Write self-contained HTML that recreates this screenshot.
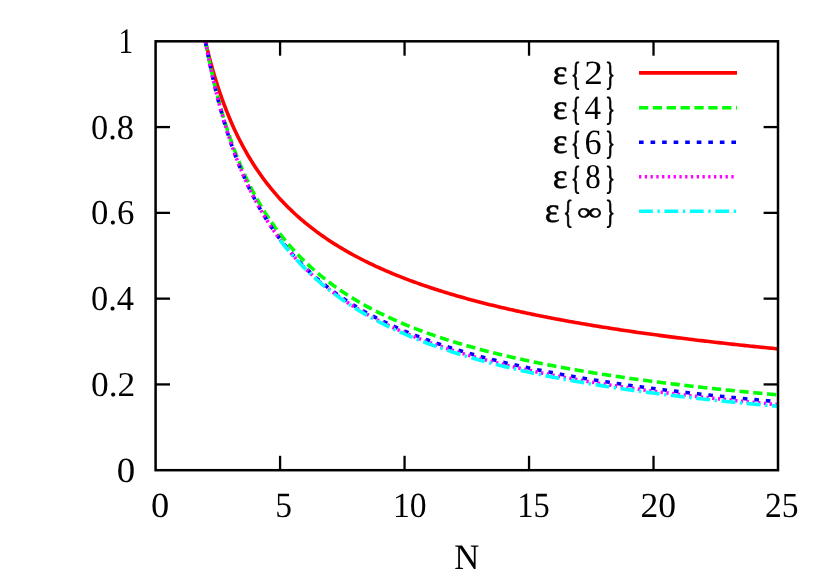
<!DOCTYPE html>
<html><head><meta charset="utf-8"><title>plot</title>
<style>
html,body{margin:0;padding:0;background:#fff;width:830px;height:581px;overflow:hidden;font-family:"Liberation Serif",serif;}
</style></head><body>
<svg width="830" height="581" viewBox="0 0 830 581" style="position:absolute;left:0;top:0">
<rect x="0" y="0" width="830" height="581" fill="#ffffff"/>
<g fill="none" stroke-width="3.6" stroke-linecap="butt" stroke-linejoin="round">
<path d="M205.39,41.30 L207.31,49.32 L209.22,56.90 L211.14,64.09 L213.05,70.92 L214.97,77.41 L216.88,83.59 L218.80,89.50 L220.71,95.14 L222.63,100.53 L224.54,105.71 L226.46,110.66 L228.37,115.43 L230.29,120.00 L232.20,124.41 L234.12,128.65 L236.03,132.74 L237.95,136.69 L239.86,140.50 L241.78,144.19 L243.69,147.75 L245.61,151.20 L247.52,154.54 L249.44,157.78 L251.35,160.92 L253.27,163.96 L255.18,166.92 L257.10,169.80 L259.01,172.59 L260.93,175.31 L262.84,177.95 L264.76,180.53 L266.67,183.04 L268.59,185.48 L270.50,187.86 L272.42,190.19 L274.33,192.45 L276.25,194.67 L278.16,196.83 L280.08,198.94 L282.00,201.00 L283.91,203.02 L285.83,204.99 L287.74,206.92 L289.66,208.81 L291.57,210.65 L293.49,212.46 L295.40,214.23 L297.32,215.97 L299.23,217.67 L301.15,219.34 L303.06,220.97 L304.98,222.57 L306.89,224.15 L308.81,225.69 L310.72,227.20 L312.64,228.69 L314.55,230.15 L316.47,231.58 L318.38,232.99 L320.30,234.37 L322.21,235.73 L324.13,237.07 L326.04,238.38 L327.96,239.67 L329.87,240.94 L331.79,242.19 L333.70,243.42 L335.62,244.63 L337.53,245.82 L339.45,246.99 L341.36,248.15 L343.28,249.28 L345.19,250.40 L347.11,251.50 L349.02,252.59 L350.94,253.66 L352.85,254.71 L354.77,255.75 L356.68,256.77 L358.60,257.78 L360.51,258.78 L362.43,259.76 L364.34,260.73 L366.26,261.68 L368.17,262.62 L370.09,263.55 L372.00,264.47 L373.92,265.37 L375.83,266.26 L377.75,267.14 L379.66,268.01 L381.58,268.87 L383.49,269.72 L385.41,270.56 L387.32,271.38 L389.24,272.20 L391.15,273.01 L393.07,273.80 L394.98,274.59 L396.90,275.37 L398.81,276.14 L400.73,276.90 L402.64,277.65 L404.56,278.39 L406.48,279.12 L408.39,279.85 L410.31,280.57 L412.22,281.27 L414.14,281.98 L416.05,282.67 L417.97,283.35 L419.88,284.03 L421.80,284.70 L423.71,285.37 L425.63,286.02 L427.54,286.67 L429.46,287.32 L431.37,287.95 L433.29,288.58 L435.20,289.21 L437.12,289.82 L439.03,290.43 L440.95,291.04 L442.86,291.63 L444.78,292.23 L446.69,292.81 L448.61,293.39 L450.52,293.97 L452.44,294.54 L454.35,295.10 L456.27,295.66 L458.18,296.21 L460.10,296.76 L462.01,297.30 L463.93,297.84 L465.84,298.38 L467.76,298.90 L469.67,299.43 L471.59,299.94 L473.50,300.46 L475.42,300.97 L477.33,301.47 L479.25,301.97 L481.16,302.47 L483.08,302.96 L484.99,303.45 L486.91,303.93 L488.82,304.41 L490.74,304.88 L492.65,305.35 L494.57,305.82 L496.48,306.28 L498.40,306.74 L500.31,307.19 L502.23,307.64 L504.14,308.09 L506.06,308.53 L507.97,308.97 L509.89,309.41 L511.80,309.84 L513.72,310.27 L515.63,310.70 L517.55,311.12 L519.46,311.54 L521.38,311.96 L523.29,312.37 L525.21,312.78 L527.12,313.18 L529.04,313.59 L530.96,313.99 L532.87,314.38 L534.79,314.78 L536.70,315.17 L538.62,315.56 L540.53,315.94 L542.45,316.33 L544.36,316.70 L546.28,317.08 L548.19,317.46 L550.11,317.83 L552.02,318.20 L553.94,318.56 L555.85,318.92 L557.77,319.28 L559.68,319.64 L561.60,320.00 L563.51,320.35 L565.43,320.70 L567.34,321.05 L569.26,321.40 L571.17,321.74 L573.09,322.08 L575.00,322.42 L576.92,322.75 L578.83,323.09 L580.75,323.42 L582.66,323.75 L584.58,324.08 L586.49,324.40 L588.41,324.72 L590.32,325.05 L592.24,325.36 L594.15,325.68 L596.07,326.00 L597.98,326.31 L599.90,326.62 L601.81,326.93 L603.73,327.23 L605.64,327.54 L607.56,327.84 L609.47,328.14 L611.39,328.44 L613.30,328.74 L615.22,329.03 L617.13,329.32 L619.05,329.62 L620.96,329.91 L622.88,330.19 L624.79,330.48 L626.71,330.76 L628.62,331.05 L630.54,331.33 L632.45,331.61 L634.37,331.88 L636.28,332.16 L638.20,332.43 L640.11,332.71 L642.03,332.98 L643.94,333.25 L645.86,333.51 L647.77,333.78 L649.69,334.05 L651.60,334.31 L653.52,334.57 L655.44,334.83 L657.35,335.09 L659.27,335.35 L661.18,335.60 L663.10,335.86 L665.01,336.11 L666.93,336.36 L668.84,336.61 L670.76,336.86 L672.67,337.11 L674.59,337.35 L676.50,337.60 L678.42,337.84 L680.33,338.08 L682.25,338.32 L684.16,338.56 L686.08,338.80 L687.99,339.03 L689.91,339.27 L691.82,339.50 L693.74,339.74 L695.65,339.97 L697.57,340.20 L699.48,340.43 L701.40,340.66 L703.31,340.88 L705.23,341.11 L707.14,341.33 L709.06,341.55 L710.97,341.78 L712.89,342.00 L714.80,342.22 L716.72,342.44 L718.63,342.65 L720.55,342.87 L722.46,343.08 L724.38,343.30 L726.29,343.51 L728.21,343.72 L730.12,343.94 L732.04,344.15 L733.95,344.35 L735.87,344.56 L737.78,344.77 L739.70,344.97 L741.61,345.18 L743.53,345.38 L745.44,345.59 L747.36,345.79 L749.27,345.99 L751.19,346.19 L753.10,346.39 L755.02,346.59 L756.93,346.78 L758.85,346.98 L760.76,347.17 L762.68,347.37 L764.59,347.56 L766.51,347.75 L768.42,347.94 L770.34,348.14 L772.25,348.32 L774.17,348.51 L776.08,348.70 L778.00,348.89" stroke="#ff0000"/>
<path d="M205.39,41.30 L207.31,51.19 L209.22,60.56 L211.14,69.45 L213.05,77.88 L214.97,85.91 L216.88,93.56 L218.80,100.85 L220.71,107.82 L222.63,114.48 L224.54,120.86 L226.46,126.97 L228.37,132.84 L230.29,138.47 L232.20,143.88 L234.12,149.09 L236.03,154.11 L237.95,158.94 L239.86,163.61 L241.78,168.10 L243.69,172.45 L245.61,176.65 L247.52,180.71 L249.44,184.65 L251.35,188.45 L253.27,192.14 L255.18,195.72 L257.10,199.19 L259.01,202.56 L260.93,205.83 L262.84,209.01 L264.76,212.10 L266.67,215.10 L268.59,218.02 L270.50,220.87 L272.42,223.64 L274.33,226.34 L276.25,228.96 L278.16,231.53 L280.08,234.03 L282.00,236.47 L283.91,238.85 L285.83,241.17 L287.74,243.44 L289.66,245.66 L291.57,247.82 L293.49,249.94 L295.40,252.01 L297.32,254.04 L299.23,256.02 L301.15,257.96 L303.06,259.86 L304.98,261.72 L306.89,263.54 L308.81,265.32 L310.72,267.07 L312.64,268.78 L314.55,270.46 L316.47,272.11 L318.38,273.72 L320.30,275.30 L322.21,276.86 L324.13,278.39 L326.04,279.88 L327.96,281.35 L329.87,282.80 L331.79,284.22 L333.70,285.61 L335.62,286.98 L337.53,288.32 L339.45,289.64 L341.36,290.94 L343.28,292.22 L345.19,293.48 L347.11,294.72 L349.02,295.93 L350.94,297.13 L352.85,298.30 L354.77,299.46 L356.68,300.60 L358.60,301.73 L360.51,302.83 L362.43,303.92 L364.34,304.99 L366.26,306.05 L368.17,307.09 L370.09,308.11 L372.00,309.12 L373.92,310.12 L375.83,311.10 L377.75,312.06 L379.66,313.02 L381.58,313.96 L383.49,314.88 L385.41,315.80 L387.32,316.70 L389.24,317.59 L391.15,318.47 L393.07,319.33 L394.98,320.18 L396.90,321.03 L398.81,321.86 L400.73,322.68 L402.64,323.49 L404.56,324.29 L406.48,325.08 L408.39,325.86 L410.31,326.63 L412.22,327.39 L414.14,328.14 L416.05,328.88 L417.97,329.62 L419.88,330.34 L421.80,331.06 L423.71,331.76 L425.63,332.46 L427.54,333.15 L429.46,333.83 L431.37,334.51 L433.29,335.17 L435.20,335.83 L437.12,336.48 L439.03,337.13 L440.95,337.76 L442.86,338.39 L444.78,339.02 L446.69,339.63 L448.61,340.24 L450.52,340.85 L452.44,341.44 L454.35,342.03 L456.27,342.61 L458.18,343.19 L460.10,343.76 L462.01,344.33 L463.93,344.89 L465.84,345.44 L467.76,345.99 L469.67,346.53 L471.59,347.07 L473.50,347.60 L475.42,348.13 L477.33,348.65 L479.25,349.16 L481.16,349.67 L483.08,350.18 L484.99,350.68 L486.91,351.17 L488.82,351.67 L490.74,352.15 L492.65,352.63 L494.57,353.11 L496.48,353.58 L498.40,354.05 L500.31,354.51 L502.23,354.97 L504.14,355.43 L506.06,355.88 L507.97,356.33 L509.89,356.77 L511.80,357.21 L513.72,357.64 L515.63,358.07 L517.55,358.50 L519.46,358.93 L521.38,359.34 L523.29,359.76 L525.21,360.17 L527.12,360.58 L529.04,360.99 L530.96,361.39 L532.87,361.79 L534.79,362.18 L536.70,362.57 L538.62,362.96 L540.53,363.35 L542.45,363.73 L544.36,364.11 L546.28,364.48 L548.19,364.86 L550.11,365.23 L552.02,365.59 L553.94,365.95 L555.85,366.32 L557.77,366.67 L559.68,367.03 L561.60,367.38 L563.51,367.73 L565.43,368.08 L567.34,368.42 L569.26,368.76 L571.17,369.10 L573.09,369.43 L575.00,369.77 L576.92,370.10 L578.83,370.43 L580.75,370.75 L582.66,371.07 L584.58,371.39 L586.49,371.71 L588.41,372.03 L590.32,372.34 L592.24,372.65 L594.15,372.96 L596.07,373.27 L597.98,373.57 L599.90,373.88 L601.81,374.18 L603.73,374.47 L605.64,374.77 L607.56,375.06 L609.47,375.35 L611.39,375.64 L613.30,375.93 L615.22,376.22 L617.13,376.50 L619.05,376.78 L620.96,377.06 L622.88,377.34 L624.79,377.61 L626.71,377.89 L628.62,378.16 L630.54,378.43 L632.45,378.70 L634.37,378.96 L636.28,379.23 L638.20,379.49 L640.11,379.75 L642.03,380.01 L643.94,380.27 L645.86,380.52 L647.77,380.78 L649.69,381.03 L651.60,381.28 L653.52,381.53 L655.44,381.78 L657.35,382.02 L659.27,382.27 L661.18,382.51 L663.10,382.75 L665.01,382.99 L666.93,383.23 L668.84,383.46 L670.76,383.70 L672.67,383.93 L674.59,384.16 L676.50,384.40 L678.42,384.62 L680.33,384.85 L682.25,385.08 L684.16,385.30 L686.08,385.53 L687.99,385.75 L689.91,385.97 L691.82,386.19 L693.74,386.41 L695.65,386.63 L697.57,386.84 L699.48,387.06 L701.40,387.27 L703.31,387.48 L705.23,387.69 L707.14,387.90 L709.06,388.11 L710.97,388.32 L712.89,388.52 L714.80,388.73 L716.72,388.93 L718.63,389.13 L720.55,389.33 L722.46,389.53 L724.38,389.73 L726.29,389.93 L728.21,390.12 L730.12,390.32 L732.04,390.51 L733.95,390.71 L735.87,390.90 L737.78,391.09 L739.70,391.28 L741.61,391.47 L743.53,391.66 L745.44,391.84 L747.36,392.03 L749.27,392.21 L751.19,392.40 L753.10,392.58 L755.02,392.76 L756.93,392.94 L758.85,393.12 L760.76,393.30 L762.68,393.48 L764.59,393.65 L766.51,393.83 L768.42,394.01 L770.34,394.18 L772.25,394.35 L774.17,394.52 L776.08,394.70 L778.00,394.87" stroke="#00ff00" stroke-dasharray="9.24,4.62"/>
<path d="M205.39,41.30 L207.31,51.49 L209.22,61.14 L211.14,70.29 L213.05,78.97 L214.97,87.23 L216.88,95.10 L218.80,102.60 L220.71,109.76 L222.63,116.61 L224.54,123.17 L226.46,129.45 L228.37,135.47 L230.29,141.26 L232.20,146.81 L234.12,152.16 L236.03,157.31 L237.95,162.27 L239.86,167.05 L241.78,171.67 L243.69,176.13 L245.61,180.43 L247.52,184.60 L249.44,188.63 L251.35,192.53 L253.27,196.31 L255.18,199.98 L257.10,203.53 L259.01,206.98 L260.93,210.33 L262.84,213.58 L264.76,216.75 L266.67,219.82 L268.59,222.81 L270.50,225.72 L272.42,228.55 L274.33,231.31 L276.25,234.00 L278.16,236.62 L280.08,239.18 L282.00,241.67 L283.91,244.10 L285.83,246.47 L287.74,248.79 L289.66,251.06 L291.57,253.27 L293.49,255.43 L295.40,257.55 L297.32,259.61 L299.23,261.64 L301.15,263.61 L303.06,265.55 L304.98,267.45 L306.89,269.30 L308.81,271.12 L310.72,272.90 L312.64,274.65 L314.55,276.36 L316.47,278.04 L318.38,279.69 L320.30,281.30 L322.21,282.88 L324.13,284.44 L326.04,285.96 L327.96,287.46 L329.87,288.93 L331.79,290.37 L333.70,291.79 L335.62,293.18 L337.53,294.55 L339.45,295.89 L341.36,297.22 L343.28,298.52 L345.19,299.79 L347.11,301.05 L349.02,302.29 L350.94,303.50 L352.85,304.70 L354.77,305.87 L356.68,307.03 L358.60,308.17 L360.51,309.29 L362.43,310.40 L364.34,311.49 L366.26,312.56 L368.17,313.61 L370.09,314.65 L372.00,315.68 L373.92,316.69 L375.83,317.68 L377.75,318.66 L379.66,319.63 L381.58,320.58 L383.49,321.52 L385.41,322.45 L387.32,323.36 L389.24,324.26 L391.15,325.15 L393.07,326.03 L394.98,326.89 L396.90,327.74 L398.81,328.58 L400.73,329.42 L402.64,330.23 L404.56,331.04 L406.48,331.84 L408.39,332.63 L410.31,333.41 L412.22,334.18 L414.14,334.94 L416.05,335.69 L417.97,336.43 L419.88,337.16 L421.80,337.88 L423.71,338.60 L425.63,339.30 L427.54,340.00 L429.46,340.69 L431.37,341.37 L433.29,342.04 L435.20,342.71 L437.12,343.37 L439.03,344.02 L440.95,344.66 L442.86,345.29 L444.78,345.92 L446.69,346.54 L448.61,347.16 L450.52,347.76 L452.44,348.37 L454.35,348.96 L456.27,349.55 L458.18,350.13 L460.10,350.70 L462.01,351.27 L463.93,351.84 L465.84,352.40 L467.76,352.95 L469.67,353.49 L471.59,354.03 L473.50,354.57 L475.42,355.10 L477.33,355.62 L479.25,356.14 L481.16,356.65 L483.08,357.16 L484.99,357.66 L486.91,358.16 L488.82,358.66 L490.74,359.15 L492.65,359.63 L494.57,360.11 L496.48,360.58 L498.40,361.05 L500.31,361.52 L502.23,361.98 L504.14,362.44 L506.06,362.89 L507.97,363.34 L509.89,363.78 L511.80,364.22 L513.72,364.66 L515.63,365.09 L517.55,365.52 L519.46,365.95 L521.38,366.37 L523.29,366.78 L525.21,367.20 L527.12,367.61 L529.04,368.01 L530.96,368.42 L532.87,368.82 L534.79,369.21 L536.70,369.60 L538.62,369.99 L540.53,370.38 L542.45,370.76 L544.36,371.14 L546.28,371.52 L548.19,371.89 L550.11,372.26 L552.02,372.62 L553.94,372.99 L555.85,373.35 L557.77,373.71 L559.68,374.06 L561.60,374.41 L563.51,374.76 L565.43,375.11 L567.34,375.45 L569.26,375.79 L571.17,376.13 L573.09,376.47 L575.00,376.80 L576.92,377.13 L578.83,377.46 L580.75,377.78 L582.66,378.10 L584.58,378.43 L586.49,378.74 L588.41,379.06 L590.32,379.37 L592.24,379.68 L594.15,379.99 L596.07,380.30 L597.98,380.60 L599.90,380.90 L601.81,381.20 L603.73,381.50 L605.64,381.79 L607.56,382.08 L609.47,382.37 L611.39,382.66 L613.30,382.95 L615.22,383.23 L617.13,383.52 L619.05,383.80 L620.96,384.07 L622.88,384.35 L624.79,384.62 L626.71,384.90 L628.62,385.17 L630.54,385.44 L632.45,385.70 L634.37,385.97 L636.28,386.23 L638.20,386.49 L640.11,386.75 L642.03,387.01 L643.94,387.26 L645.86,387.52 L647.77,387.77 L649.69,388.02 L651.60,388.27 L653.52,388.52 L655.44,388.76 L657.35,389.01 L659.27,389.25 L661.18,389.49 L663.10,389.73 L665.01,389.97 L666.93,390.21 L668.84,390.44 L670.76,390.68 L672.67,390.91 L674.59,391.14 L676.50,391.37 L678.42,391.59 L680.33,391.82 L682.25,392.04 L684.16,392.27 L686.08,392.49 L687.99,392.71 L689.91,392.93 L691.82,393.15 L693.74,393.36 L695.65,393.58 L697.57,393.79 L699.48,394.00 L701.40,394.22 L703.31,394.43 L705.23,394.63 L707.14,394.84 L709.06,395.05 L710.97,395.25 L712.89,395.46 L714.80,395.66 L716.72,395.86 L718.63,396.06 L720.55,396.26 L722.46,396.46 L724.38,396.65 L726.29,396.85 L728.21,397.04 L730.12,397.24 L732.04,397.43 L733.95,397.62 L735.87,397.81 L737.78,398.00 L739.70,398.18 L741.61,398.37 L743.53,398.56 L745.44,398.74 L747.36,398.92 L749.27,399.11 L751.19,399.29 L753.10,399.47 L755.02,399.65 L756.93,399.83 L758.85,400.00 L760.76,400.18 L762.68,400.36 L764.59,400.53 L766.51,400.70 L768.42,400.88 L770.34,401.05 L772.25,401.22 L774.17,401.39 L776.08,401.56 L778.00,401.73" stroke="#0000ff" stroke-dasharray="4.62,6.93"/>
<path d="M205.39,41.30 L207.31,51.44 L209.22,61.03 L211.14,70.14 L213.05,78.79 L214.97,87.02 L216.88,94.86 L218.80,102.35 L220.71,109.50 L222.63,116.34 L224.54,122.89 L226.46,129.17 L228.37,135.20 L230.29,140.99 L232.20,146.56 L234.12,151.91 L236.03,157.07 L237.95,162.05 L239.86,166.84 L241.78,171.48 L243.69,175.95 L245.61,180.28 L247.52,184.46 L249.44,188.51 L251.35,192.44 L253.27,196.24 L255.18,199.93 L257.10,203.51 L259.01,206.98 L260.93,210.35 L262.84,213.63 L264.76,216.82 L266.67,219.92 L268.59,222.93 L270.50,225.87 L272.42,228.73 L274.33,231.51 L276.25,234.23 L278.16,236.88 L280.08,239.46 L282.00,241.98 L283.91,244.44 L285.83,246.84 L287.74,249.18 L289.66,251.47 L291.57,253.71 L293.49,255.90 L295.40,258.04 L297.32,260.13 L299.23,262.18 L301.15,264.18 L303.06,266.14 L304.98,268.06 L306.89,269.94 L308.81,271.79 L310.72,273.59 L312.64,275.36 L314.55,277.10 L316.47,278.80 L318.38,280.47 L320.30,282.11 L322.21,283.71 L324.13,285.29 L326.04,286.84 L327.96,288.36 L329.87,289.85 L331.79,291.32 L333.70,292.76 L335.62,294.17 L337.53,295.56 L339.45,296.93 L341.36,298.27 L343.28,299.59 L345.19,300.89 L347.11,302.16 L349.02,303.42 L350.94,304.66 L352.85,305.87 L354.77,307.07 L356.68,308.25 L358.60,309.41 L360.51,310.55 L362.43,311.67 L364.34,312.78 L366.26,313.87 L368.17,314.94 L370.09,316.00 L372.00,317.04 L373.92,318.07 L375.83,319.08 L377.75,320.08 L379.66,321.06 L381.58,322.03 L383.49,322.99 L385.41,323.93 L387.32,324.86 L389.24,325.78 L391.15,326.68 L393.07,327.57 L394.98,328.45 L396.90,329.32 L398.81,330.18 L400.73,331.03 L402.64,331.86 L404.56,332.68 L406.48,333.50 L408.39,334.30 L410.31,335.09 L412.22,335.88 L414.14,336.65 L416.05,337.42 L417.97,338.17 L419.88,338.92 L421.80,339.65 L423.71,340.38 L425.63,341.10 L427.54,341.81 L429.46,342.51 L431.37,343.20 L433.29,343.89 L435.20,344.57 L437.12,345.24 L439.03,345.90 L440.95,346.55 L442.86,347.20 L444.78,347.84 L446.69,348.48 L448.61,349.10 L450.52,349.72 L452.44,350.33 L454.35,350.94 L456.27,351.54 L458.18,352.13 L460.10,352.72 L462.01,353.30 L463.93,353.87 L465.84,354.44 L467.76,355.00 L469.67,355.56 L471.59,356.11 L473.50,356.65 L475.42,357.19 L477.33,357.73 L479.25,358.26 L481.16,358.78 L483.08,359.30 L484.99,359.81 L486.91,360.32 L488.82,360.82 L490.74,361.32 L492.65,361.81 L494.57,362.30 L496.48,362.79 L498.40,363.26 L500.31,363.74 L502.23,364.21 L504.14,364.68 L506.06,365.14 L507.97,365.59 L509.89,366.05 L511.80,366.50 L513.72,366.94 L515.63,367.38 L517.55,367.82 L519.46,368.25 L521.38,368.68 L523.29,369.10 L525.21,369.53 L527.12,369.94 L529.04,370.36 L530.96,370.77 L532.87,371.17 L534.79,371.58 L536.70,371.98 L538.62,372.37 L540.53,372.77 L542.45,373.16 L544.36,373.54 L546.28,373.92 L548.19,374.30 L550.11,374.68 L552.02,375.05 L553.94,375.42 L555.85,375.79 L557.77,376.16 L559.68,376.52 L561.60,376.88 L563.51,377.23 L565.43,377.58 L567.34,377.93 L569.26,378.28 L571.17,378.63 L573.09,378.97 L575.00,379.31 L576.92,379.64 L578.83,379.98 L580.75,380.31 L582.66,380.63 L584.58,380.96 L586.49,381.28 L588.41,381.61 L590.32,381.92 L592.24,382.24 L594.15,382.55 L596.07,382.86 L597.98,383.17 L599.90,383.48 L601.81,383.78 L603.73,384.09 L605.64,384.39 L607.56,384.68 L609.47,384.98 L611.39,385.27 L613.30,385.57 L615.22,385.85 L617.13,386.14 L619.05,386.43 L620.96,386.71 L622.88,386.99 L624.79,387.27 L626.71,387.55 L628.62,387.82 L630.54,388.10 L632.45,388.37 L634.37,388.64 L636.28,388.90 L638.20,389.17 L640.11,389.43 L642.03,389.70 L643.94,389.96 L645.86,390.21 L647.77,390.47 L649.69,390.73 L651.60,390.98 L653.52,391.23 L655.44,391.48 L657.35,391.73 L659.27,391.98 L661.18,392.22 L663.10,392.46 L665.01,392.71 L666.93,392.95 L668.84,393.18 L670.76,393.42 L672.67,393.66 L674.59,393.89 L676.50,394.12 L678.42,394.36 L680.33,394.59 L682.25,394.81 L684.16,395.04 L686.08,395.27 L687.99,395.49 L689.91,395.71 L691.82,395.93 L693.74,396.15 L695.65,396.37 L697.57,396.59 L699.48,396.80 L701.40,397.02 L703.31,397.23 L705.23,397.44 L707.14,397.65 L709.06,397.86 L710.97,398.07 L712.89,398.28 L714.80,398.48 L716.72,398.69 L718.63,398.89 L720.55,399.09 L722.46,399.29 L724.38,399.49 L726.29,399.69 L728.21,399.89 L730.12,400.08 L732.04,400.28 L733.95,400.47 L735.87,400.67 L737.78,400.86 L739.70,401.05 L741.61,401.24 L743.53,401.42 L745.44,401.61 L747.36,401.80 L749.27,401.98 L751.19,402.17 L753.10,402.35 L755.02,402.53 L756.93,402.71 L758.85,402.89 L760.76,403.07 L762.68,403.25 L764.59,403.43 L766.51,403.60 L768.42,403.78 L770.34,403.95 L772.25,404.12 L774.17,404.30 L776.08,404.47 L778.00,404.64" stroke="#ff00ff" stroke-dasharray="2.31,3.46"/>
<path d="M280.08,240.14 L281.75,242.30 L283.41,244.42 L285.08,246.50 L286.74,248.53 L288.41,250.53 L290.07,252.49 L291.74,254.42 L293.40,256.31 L295.07,258.16 L296.73,259.99 L298.40,261.78 L300.06,263.54 L301.73,265.26 L303.39,266.96 L305.06,268.63 L306.72,270.27 L308.39,271.88 L310.06,273.47 L311.72,275.03 L313.39,276.56 L315.05,278.07 L316.72,279.55 L318.38,281.01 L320.05,282.45 L321.71,283.86 L323.38,285.26 L325.04,286.63 L326.71,287.98 L328.37,289.31 L330.04,290.61 L331.70,291.90 L333.37,293.17 L335.03,294.42 L336.70,295.66 L338.36,296.87 L340.03,298.07 L341.70,299.25 L343.36,300.41 L345.03,301.55 L346.69,302.68 L348.36,303.80 L350.02,304.90 L351.69,305.98 L353.35,307.05 L355.02,308.10 L356.68,309.14 L358.35,310.17 L360.01,311.18 L361.68,312.18 L363.34,313.17 L365.01,314.14 L366.67,315.10 L368.34,316.05 L370.01,316.99 L371.67,317.91 L373.34,318.82 L375.00,319.72 L376.67,320.61 L378.33,321.49 L380.00,322.36 L381.66,323.22 L383.33,324.06 L384.99,324.90 L386.66,325.73 L388.32,326.54 L389.99,327.35 L391.65,328.15 L393.32,328.94 L394.98,329.72 L396.65,330.49 L398.32,331.25 L399.98,332.00 L401.65,332.74 L403.31,333.48 L404.98,334.21 L406.64,334.92 L408.31,335.64 L409.97,336.34 L411.64,337.03 L413.30,337.72 L414.97,338.40 L416.63,339.08 L418.30,339.74 L419.96,340.40 L421.63,341.05 L423.29,341.70 L424.96,342.34 L426.63,342.97 L428.29,343.59 L429.96,344.21 L431.62,344.82 L433.29,345.43 L434.95,346.03 L436.62,346.62 L438.28,347.21 L439.95,347.79 L441.61,348.37 L443.28,348.94 L444.94,349.50 L446.61,350.06 L448.27,350.62 L449.94,351.16 L451.60,351.71 L453.27,352.24 L454.93,352.78 L456.60,353.30 L458.27,353.83 L459.93,354.34 L461.60,354.86 L463.26,355.37 L464.93,355.87 L466.59,356.37 L468.26,356.86 L469.92,357.35 L471.59,357.84 L473.25,358.32 L474.92,358.79 L476.58,359.26 L478.25,359.73 L479.91,360.20 L481.58,360.66 L483.24,361.11 L484.91,361.56 L486.58,362.01 L488.24,362.45 L489.91,362.89 L491.57,363.33 L493.24,363.76 L494.90,364.19 L496.57,364.61 L498.23,365.04 L499.90,365.45 L501.56,365.87 L503.23,366.28 L504.89,366.68 L506.56,367.09 L508.22,367.49 L509.89,367.89 L511.55,368.28 L513.22,368.67 L514.89,369.06 L516.55,369.44 L518.22,369.82 L519.88,370.20 L521.55,370.58 L523.21,370.95 L524.88,371.32 L526.54,371.69 L528.21,372.05 L529.87,372.41 L531.54,372.77 L533.20,373.12 L534.87,373.48 L536.53,373.83 L538.20,374.17 L539.86,374.52 L541.53,374.86 L543.19,375.20 L544.86,375.53 L546.53,375.87 L548.19,376.20 L549.86,376.53 L551.52,376.86 L553.19,377.18 L554.85,377.50 L556.52,377.82 L558.18,378.14 L559.85,378.45 L561.51,378.77 L563.18,379.08 L564.84,379.38 L566.51,379.69 L568.17,379.99 L569.84,380.30 L571.50,380.59 L573.17,380.89 L574.84,381.19 L576.50,381.48 L578.17,381.77 L579.83,382.06 L581.50,382.35 L583.16,382.63 L584.83,382.91 L586.49,383.20 L588.16,383.47 L589.82,383.75 L591.49,384.03 L593.15,384.30 L594.82,384.57 L596.48,384.84 L598.15,385.11 L599.81,385.38 L601.48,385.64 L603.15,385.90 L604.81,386.16 L606.48,386.42 L608.14,386.68 L609.81,386.94 L611.47,387.19 L613.14,387.44 L614.80,387.69 L616.47,387.94 L618.13,388.19 L619.80,388.44 L621.46,388.68 L623.13,388.92 L624.79,389.17 L626.46,389.41 L628.12,389.64 L629.79,389.88 L631.45,390.12 L633.12,390.35 L634.79,390.58 L636.45,390.81 L638.12,391.04 L639.78,391.27 L641.45,391.50 L643.11,391.72 L644.78,391.95 L646.44,392.17 L648.11,392.39 L649.77,392.61 L651.44,392.83 L653.10,393.05 L654.77,393.26 L656.43,393.48 L658.10,393.69 L659.76,393.90 L661.43,394.11 L663.10,394.32 L664.76,394.53 L666.43,394.74 L668.09,394.94 L669.76,395.15 L671.42,395.35 L673.09,395.55 L674.75,395.76 L676.42,395.96 L678.08,396.15 L679.75,396.35 L681.41,396.55 L683.08,396.74 L684.74,396.94 L686.41,397.13 L688.07,397.32 L689.74,397.52 L691.41,397.71 L693.07,397.89 L694.74,398.08 L696.40,398.27 L698.07,398.46 L699.73,398.64 L701.40,398.82 L703.06,399.01 L704.73,399.19 L706.39,399.37 L708.06,399.55 L709.72,399.73 L711.39,399.91 L713.05,400.08 L714.72,400.26 L716.38,400.43 L718.05,400.61 L719.72,400.78 L721.38,400.95 L723.05,401.12 L724.71,401.29 L726.38,401.46 L728.04,401.63 L729.71,401.80 L731.37,401.97 L733.04,402.13 L734.70,402.30 L736.37,402.46 L738.03,402.63 L739.70,402.79 L741.36,402.95 L743.03,403.11 L744.69,403.27 L746.36,403.43 L748.02,403.59 L749.69,403.75 L751.36,403.90 L753.02,404.06 L754.69,404.21 L756.35,404.37 L758.02,404.52 L759.68,404.68 L761.35,404.83 L763.01,404.98 L764.68,405.13 L766.34,405.28 L768.01,405.43 L769.67,405.58 L771.34,405.72 L773.00,405.87 L774.67,406.02 L776.33,406.16 L778.00,406.31" stroke="#00ffff" stroke-dasharray="13.86,4.62,2.31,4.62"/>
<path d="M639.0,72.9 L737.0,72.9" stroke="#ff0000"/>
<path d="M639.0,107.8 L737.0,107.8" stroke="#00ff00" stroke-dasharray="9.24,4.62"/>
<path d="M639.0,142.2 L737.0,142.2" stroke="#0000ff" stroke-dasharray="4.62,6.93"/>
<path d="M639.0,176.8 L737.0,176.8" stroke="#ff00ff" stroke-dasharray="2.31,3.46"/>
<path d="M639.0,211.3 L737.0,211.3" stroke="#00ffff" stroke-dasharray="13.86,4.62,2.31,4.62"/>
</g>
<g stroke="#000" stroke-width="2.3" fill="none" stroke-linecap="butt">
<path d="M280.08,470.2 V455.8"/>
<path d="M280.08,41.3 V55.699999999999996"/>
<path d="M404.56,470.2 V455.8"/>
<path d="M404.56,41.3 V55.699999999999996"/>
<path d="M529.04,470.2 V455.8"/>
<path d="M529.04,41.3 V55.699999999999996"/>
<path d="M653.52,470.2 V455.8"/>
<path d="M653.52,41.3 V55.699999999999996"/>
<path d="M155.6,384.42 H170.0"/>
<path d="M778.0,384.42 H763.6"/>
<path d="M155.6,298.64 H170.0"/>
<path d="M778.0,298.64 H763.6"/>
<path d="M155.6,212.86 H170.0"/>
<path d="M778.0,212.86 H763.6"/>
<path d="M155.6,127.08 H170.0"/>
<path d="M778.0,127.08 H763.6"/>
</g>
<rect x="155.6" y="41.3" width="622.4" height="428.90" fill="none" stroke="#000" stroke-width="2.5"/>
<g font-family="Liberation Serif, serif" font-size="34px" fill="#000" text-rendering="geometricPrecision" style="will-change:opacity;opacity:0.999">
<text transform="translate(116.69,481.99) scale(1.0833,1.0349)" font-size="34px">0</text>
<text transform="translate(90.94,396.01) scale(1.0433,1.0260)" font-size="34px">0.2</text>
<text transform="translate(90.98,310.23) scale(1.0123,1.0260)" font-size="34px">0.4</text>
<text transform="translate(90.97,224.45) scale(1.0249,1.0260)" font-size="34px">0.6</text>
<text transform="translate(90.98,138.67) scale(1.0125,1.0260)" font-size="34px">0.8</text>
<text transform="translate(118.41,53.40) scale(0.8600,1.0580)" font-size="34px">1</text>
<text transform="translate(150.91,516.59) scale(1.0694,1.0349)" font-size="34px">0</text>
<text transform="translate(275.33,516.59) scale(0.9854,1.0487)" font-size="34px">5</text>
<text transform="translate(393.03,516.59) scale(0.9899,1.0349)" font-size="34px">10</text>
<text transform="translate(517.23,516.59) scale(0.9562,1.0441)" font-size="34px">15</text>
<text transform="translate(640.43,516.59) scale(1.0449,1.0349)" font-size="34px">20</text>
<text transform="translate(765.02,516.59) scale(0.9872,1.0395)" font-size="34px">25</text>
<text transform="translate(454.18,569.00) scale(1.0219,1.0538)" font-size="34px">N</text>
<g><text transform="translate(552.63,83.91) scale(1.0375,1.0399)" font-size="34px" stroke="#000" stroke-width="0.530" stroke-linejoin="round">ε</text><text transform="translate(570.96,84.71) scale(0.6000,0.9751)" font-size="34px" stroke="#000" stroke-width="1.016" stroke-linejoin="round">{</text><text transform="translate(584.36,84.20) scale(1.0956,1.0000)" font-size="34px">2</text><text transform="translate(605.31,84.71) scale(0.6000,0.9751)" font-size="34px" stroke="#000" stroke-width="1.016" stroke-linejoin="round">}</text></g>
<g><text transform="translate(552.63,118.81) scale(1.0375,1.0399)" font-size="34px" stroke="#000" stroke-width="0.530" stroke-linejoin="round">ε</text><text transform="translate(570.96,119.61) scale(0.6000,0.9751)" font-size="34px" stroke="#000" stroke-width="1.016" stroke-linejoin="round">{</text><text transform="translate(584.52,119.10) scale(0.9747,1.0000)" font-size="34px">4</text><text transform="translate(605.31,119.61) scale(0.6000,0.9751)" font-size="34px" stroke="#000" stroke-width="1.016" stroke-linejoin="round">}</text></g>
<g><text transform="translate(552.63,153.21) scale(1.0375,1.0399)" font-size="34px" stroke="#000" stroke-width="0.530" stroke-linejoin="round">ε</text><text transform="translate(570.96,154.01) scale(0.6000,0.9751)" font-size="34px" stroke="#000" stroke-width="1.016" stroke-linejoin="round">{</text><text transform="translate(584.49,153.59) scale(1.0069,1.0439)" font-size="34px">6</text><text transform="translate(605.31,154.01) scale(0.6000,0.9751)" font-size="34px" stroke="#000" stroke-width="1.016" stroke-linejoin="round">}</text></g>
<g><text transform="translate(552.63,187.81) scale(1.0375,1.0399)" font-size="34px" stroke="#000" stroke-width="0.530" stroke-linejoin="round">ε</text><text transform="translate(570.96,188.61) scale(0.6000,0.9751)" font-size="34px" stroke="#000" stroke-width="1.016" stroke-linejoin="round">{</text><text transform="translate(585.32,188.19) scale(0.9097,1.0175)" font-size="34px">8</text><text transform="translate(605.31,188.61) scale(0.6000,0.9751)" font-size="34px" stroke="#000" stroke-width="1.016" stroke-linejoin="round">}</text></g>
<g><text transform="translate(544.83,222.31) scale(1.0375,1.0399)" font-size="34px" stroke="#000" stroke-width="0.530" stroke-linejoin="round">ε</text><text transform="translate(563.16,223.11) scale(0.6000,0.9751)" font-size="34px" stroke="#000" stroke-width="1.016" stroke-linejoin="round">{</text><text transform="translate(577.13,220.34) scale(1.0139,0.7231)" font-size="34px" stroke="#000" stroke-width="0.806" stroke-linejoin="round">∞</text><text transform="translate(605.31,223.11) scale(0.6000,0.9751)" font-size="34px" stroke="#000" stroke-width="1.016" stroke-linejoin="round">}</text></g>
</g>
</svg>
</body></html>
